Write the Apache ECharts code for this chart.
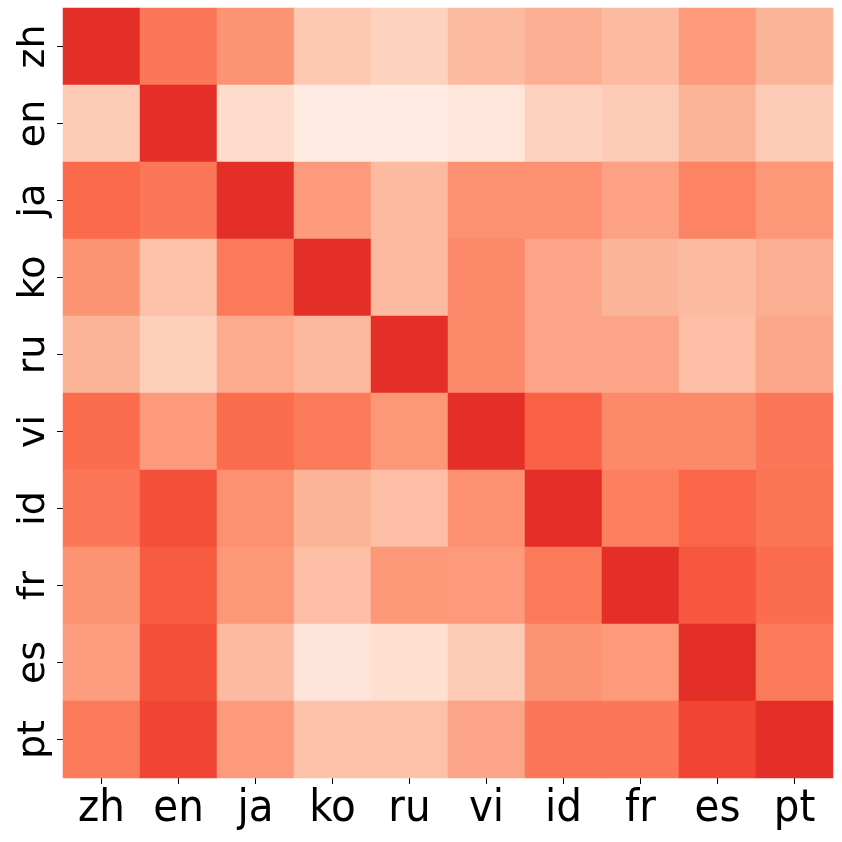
<!DOCTYPE html>
<html>
<head>
<meta charset="utf-8">
<script src="https://cdn.jsdelivr.net/npm/echarts@6/dist/echarts.min.js"></script>
<style>html,body{margin:0;padding:0;background:#fff}#c{width:842px;height:842px}</style>
</head>
<body>
<div id="c"></div>
<script>
var languages = ['zh','en','ja','ko','ru','vi','id','fr','es','pt'];
var row_zh = [1.0, 0.69, 0.555, 0.315, 0.255, 0.375, 0.435, 0.375, 0.525, 0.405];
var row_en = [0.30, 1.0, 0.21, 0.09, 0.085, 0.135, 0.255, 0.30, 0.405, 0.30];
var row_ja = [0.75, 0.69, 1.0, 0.525, 0.375, 0.57, 0.57, 0.495, 0.63, 0.54];
var row_ko = [0.555, 0.345, 0.675, 1.0, 0.375, 0.60, 0.48, 0.405, 0.375, 0.435];
var row_ru = [0.405, 0.27, 0.45, 0.39, 1.0, 0.60, 0.48, 0.48, 0.36, 0.465];
var row_vi = [0.735, 0.525, 0.735, 0.675, 0.54, 1.0, 0.78, 0.60, 0.60, 0.69];
var row_id = [0.69, 0.855, 0.57, 0.405, 0.36, 0.57, 1.0, 0.645, 0.765, 0.705];
var row_fr = [0.555, 0.81, 0.54, 0.36, 0.54, 0.525, 0.675, 1.0, 0.825, 0.735];
var row_es = [0.51, 0.855, 0.375, 0.15, 0.195, 0.30, 0.555, 0.525, 1.0, 0.675];
var row_pt = [0.675, 0.90, 0.525, 0.345, 0.345, 0.48, 0.69, 0.69, 0.90, 1.0];

var rows = [row_zh,row_en,row_ja,row_ko,row_ru,row_vi,row_id,row_fr,row_es,row_pt];
var data = [];
rows.forEach(function(r, i){ r.forEach(function(v, j){ data.push([j, i, v]); }); });

var reds = ['#fff5f0','#fee0d2','#fcbba1','#fc9272','#fb6a4a','#ef3b2c','#cb181d','#a50f15','#67000d'];
var chart = echarts.init(document.getElementById('c'), null, {renderer:'canvas'});
chart.setOption({
  animation: false,
  grid: {left: 63, top: 8, width: 770, height: 770},
  xAxis: {
    type: 'category', data: languages, position: 'bottom',
    axisLine: {show: false},
    axisTick: {show: true, length: 6, alignWithLabel: true, lineStyle: {color: '#000', width: 1}},
    axisLabel: {fontFamily: 'DejaVu Sans Condensed', fontSize: 45, color: '#000', margin: 9},
    splitLine: {show: false}
  },
  yAxis: {
    type: 'category', data: languages, inverse: true,
    axisLine: {show: false},
    axisTick: {show: true, length: 6, alignWithLabel: true, lineStyle: {color: '#000', width: 1}},
    axisLabel: {fontFamily: 'DejaVu Sans', fontSize: 38, color: '#000', rotate: 90, margin: 10},
    splitLine: {show: false}
  },
  visualMap: {
    show: false, min: 0, max: 1.5, dimension: 2,
    inRange: {color: reds}
  },
  series: [{
    type: 'heatmap', data: data,
    itemStyle: {borderWidth: 0},
    emphasis: {disabled: true}
  }]
});
</script>
</body>
</html>
